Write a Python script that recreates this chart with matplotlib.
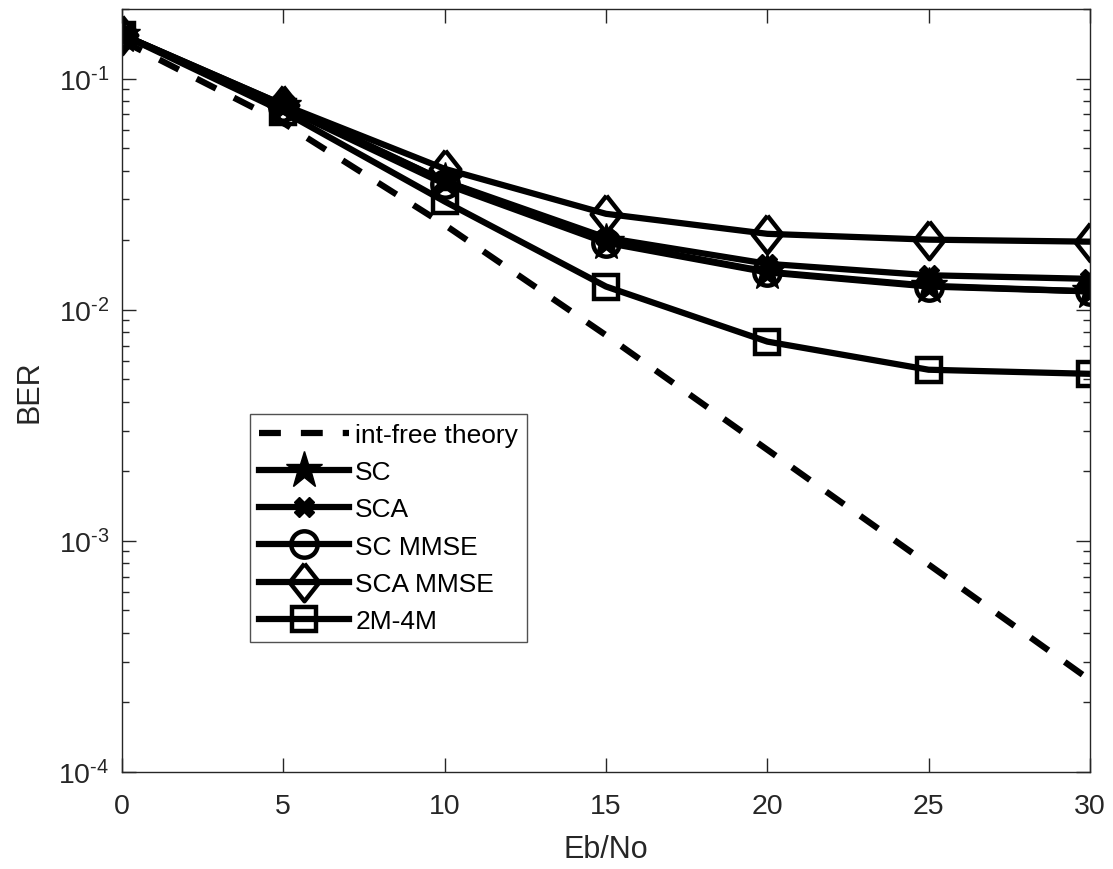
import math
import matplotlib
matplotlib.use("Agg")
import matplotlib.pyplot as plt
from matplotlib.ticker import LogLocator, FuncFormatter, NullFormatter

plt.rcParams['font.family'] = ['Liberation Sans', 'DejaVu Sans']
plt.rcParams['mathtext.default'] = 'regular'

ebno = [0, 5, 10, 15, 20, 25, 30]

theory = [0.146, 0.0643, 0.0233, 0.00776, 0.00248, 0.00079, 0.00025]
sc = [0.155, 0.076, 0.036, 0.0197, 0.0146, 0.0127, 0.0120]
sca = [0.155, 0.077, 0.036, 0.0205, 0.0158, 0.0141, 0.0136]
sc_mmse = [0.155, 0.075, 0.035, 0.0195, 0.0145, 0.0126, 0.0120]
sca_mmse = [0.155, 0.077, 0.0407, 0.026, 0.0213, 0.0201, 0.0197]
m24 = [0.155, 0.072, 0.0294, 0.0126, 0.00728, 0.0055, 0.00528]

diamond = [(0, 1), (0.79, 0), (0, -1), (-0.79, 0), (0, 1)]

fig = plt.figure(figsize=(11.13, 8.7), dpi=100)
ax = fig.add_axes([0.1096, 0.1115, 0.8697, 0.877])

lw = 4.5
ax.plot(ebno, theory, 'k--', lw=lw, dashes=(3.5, 3.2), label='int-free theory')
ax.plot(ebno, sc, 'k-', lw=lw, marker='*', ms=28, mew=1, label='SC')
ax.plot(ebno, sca, 'k-', lw=lw, marker='X', ms=15, mew=1, label='SCA')
ax.plot(ebno, sc_mmse, 'k-', lw=lw, marker='o', ms=19, mfc='none', mew=3.2, label='SC MMSE')
ax.plot(ebno, sca_mmse, 'k-', lw=lw, marker=diamond, ms=27, mfc='none', mew=3.2, label='SCA MMSE')
ax.plot(ebno, m24, 'k-', lw=lw, marker='s', ms=17, mfc='none', mew=3.2, label='2M-4M')

ax.set_yscale('log')
ax.set_xlim(0, 30)
ax.set_ylim(1e-4, 0.2)
ax.set_xticks([0, 5, 10, 15, 20, 25, 30])
ax.yaxis.set_major_locator(LogLocator(base=10, numticks=10))
ax.yaxis.set_minor_locator(LogLocator(base=10, subs=range(2, 10), numticks=20))
ax.yaxis.set_minor_formatter(NullFormatter())
ax.yaxis.set_major_formatter(FuncFormatter(lambda v, p: '$10^{\u2010%d}$' % abs(round(math.log10(v)))))

grey = '#262626'
for s in ax.spines.values():
    s.set_color(grey)
    s.set_linewidth(1.0)
ax.tick_params(which='both', direction='in', top=True, right=True, colors=grey, labelsize=20.5, width=1.0)
ax.tick_params(which='major', length=10)
ax.tick_params(axis='x', which='major', pad=15)
ax.tick_params(axis='y', which='major', pad=9)
ax.tick_params(which='minor', length=5)

ax.set_xlabel('Eb/No', fontsize=22, color=grey, labelpad=11)
ax.set_ylabel('BER', fontsize=22, color=grey, labelpad=10)

leg = ax.legend(loc='lower left', bbox_to_anchor=(0.132, 0.17), fontsize=19, frameon=True,
                fancybox=False, edgecolor=grey, handlelength=3.4, handletextpad=0.25,
                labelspacing=0.5, borderpad=0.35, borderaxespad=0)
leg.get_frame().set_linewidth(1.0)

fig.savefig('out.png', dpi=100)
